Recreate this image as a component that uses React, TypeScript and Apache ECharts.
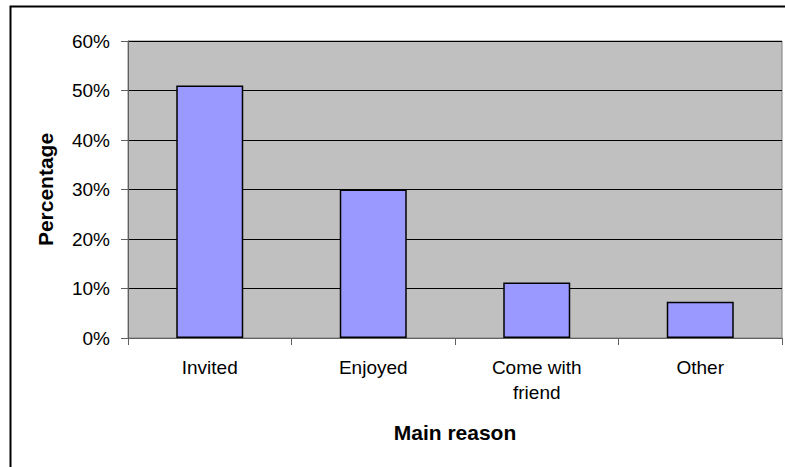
import React, { useEffect, useRef } from "react";
import * as echarts from "echarts";

const categories = ["Invited", "Enjoyed", "Come with\nfriend", "Other"];
const percentages = [51, 30, 11.2, 7.3];
const yTicks = { min: 0, max: 60, interval: 10 };
const xAxisTitle = "Main reason";
const yAxisTitle = "Percentage";

const FONT = "'Liberation Sans', Arial, sans-serif";

export default function App() {
  const ref = useRef<HTMLDivElement>(null);
  useEffect(() => {
    if (!ref.current) return;
    const chart = echarts.init(ref.current, undefined, { renderer: "svg" });
    chart.setOption({
      animation: false,
      backgroundColor: "#ffffff",
      textStyle: { fontFamily: FONT, color: "#000" },
      graphic: [
        {
          type: "rect",
          shape: { x: 10.5, y: 6.5, width: 800, height: 500 },
          style: { fill: "none", stroke: "#000", lineWidth: 2 },
          silent: true,
        },
      ],
      grid: {
        left: 128,
        top: 41,
        right: 3,
        bottom: 129,
        show: true,
        backgroundColor: "#C0C0C0",
        borderColor: "#808080",
        borderWidth: 1,
      },
      xAxis: {
        type: "category",
        data: categories,
        boundaryGap: true,
        name: xAxisTitle,
        nameLocation: "middle",
        nameGap: 84,
        nameTextStyle: { fontFamily: FONT, fontSize: 21, fontWeight: "bold", color: "#000" },
        axisLine: { lineStyle: { color: "#606060", width: 1 } },
        axisTick: { show: true, length: 7, lineStyle: { color: "#606060" } },
        axisLabel: {
          fontFamily: FONT,
          fontSize: 19,
          color: "#000",
          margin: 17,
          lineHeight: 25,
          interval: 0,
        },
        splitLine: { show: false },
      },
      yAxis: {
        type: "value",
        min: yTicks.min,
        max: yTicks.max,
        interval: yTicks.interval,
        name: yAxisTitle,
        nameLocation: "middle",
        nameRotate: 90,
        nameGap: 72,
        nameTextStyle: { fontFamily: FONT, fontSize: 21, fontWeight: "bold", color: "#000" },
        axisLine: { show: true, lineStyle: { color: "#606060", width: 1 } },
        axisTick: { show: true, length: 7, lineStyle: { color: "#606060" } },
        axisLabel: {
          fontFamily: FONT,
          fontSize: 19,
          color: "#000",
          margin: 18,
          formatter: "{value}%",
        },
        splitLine: { show: true, lineStyle: { color: "#000", width: 1 } },
      },
      series: [
        {
          type: "bar",
          data: percentages,
          barWidth: 67,
          itemStyle: { color: "#9999FF", borderColor: "#000", borderWidth: 1.5 },
        },
      ],
    });
    return () => chart.dispose();
  }, []);
  return (
    <div
      ref={ref}
      style={{ position: "fixed", left: 0, top: 0, width: 785, height: 467 }}
    />
  );
}
